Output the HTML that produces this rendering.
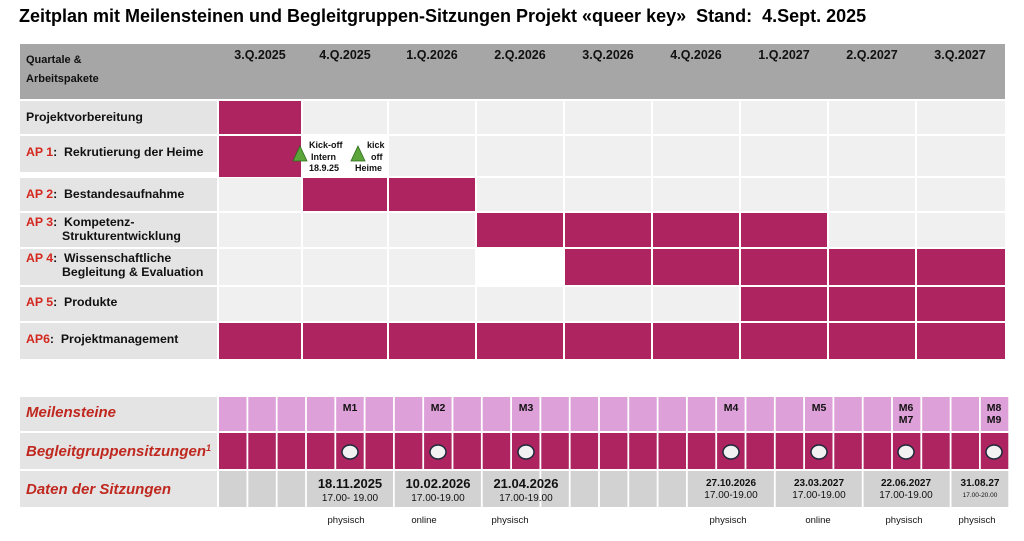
<!DOCTYPE html>
<html><head><meta charset="utf-8"><style>
body{margin:0;background:#fff;}
svg{display:block;font-family:"Liberation Sans",Arial,sans-serif;}
text{white-space:pre;}
</style></head><body>
<svg width="1024" height="541" xmlns="http://www.w3.org/2000/svg" xml:space="preserve">
<text x="19" y="22" font-size="18" font-weight="bold" fill="#000">Zeitplan mit Meilensteinen und Begleitgruppen-Sitzungen Projekt «queer key»  Stand:  4.Sept. 2025</text>
<rect x="20" y="44" width="985" height="55" fill="#a6a6a6"/>
<g font-size="11" font-weight="bold" fill="#111">
<text x="26" y="63">Quartale &amp;</text>
<text x="26" y="82">Arbeitspakete</text>
</g>
<g font-size="12.5" font-weight="bold" fill="#111" text-anchor="middle">
<text x="260" y="59">3.Q.2025</text><text x="345" y="59">4.Q.2025</text><text x="432" y="59">1.Q.2026</text><text x="520" y="59">2.Q.2026</text><text x="608" y="59">3.Q.2026</text><text x="696" y="59">4.Q.2026</text><text x="784" y="59">1.Q.2027</text><text x="872" y="59">2.Q.2027</text><text x="960" y="59">3.Q.2027</text>
</g>
<g fill="#e4e4e4">
<rect x="20" y="101" width="197" height="33"/><rect x="20" y="136" width="197" height="36"/><rect x="20" y="178" width="197" height="33"/><rect x="20" y="213" width="197" height="34"/><rect x="20" y="249" width="197" height="36"/><rect x="20" y="287" width="197" height="34"/><rect x="20" y="323" width="197" height="36"/>
</g>
<g fill="#f0f0f0">
<rect x="219" y="101" width="786" height="33"/><rect x="219" y="136" width="786" height="40"/><rect x="219" y="178" width="786" height="33"/><rect x="219" y="213" width="786" height="34"/><rect x="219" y="249" width="786" height="36"/><rect x="219" y="287" width="786" height="34"/><rect x="219" y="323" width="786" height="36"/>
</g>
<rect x="476" y="249" width="88" height="36" fill="#fff"/>
<g stroke="#fff" stroke-width="2">
<line x1="302" y1="99" x2="302" y2="360"/><line x1="388" y1="99" x2="388" y2="360"/><line x1="476" y1="99" x2="476" y2="360"/><line x1="564" y1="99" x2="564" y2="360"/><line x1="652" y1="99" x2="652" y2="360"/><line x1="740" y1="99" x2="740" y2="360"/><line x1="828" y1="99" x2="828" y2="360"/><line x1="916" y1="99" x2="916" y2="360"/>
</g>
<g fill="#ad2460">
<rect x="219" y="101" width="82" height="33"/>
<rect x="219" y="136" width="82" height="41"/>
<rect x="303" y="178" width="84" height="33"/><rect x="389" y="178" width="86" height="33"/>
<rect x="477" y="213" width="86" height="34"/><rect x="565" y="213" width="86" height="34"/><rect x="653" y="213" width="86" height="34"/><rect x="741" y="213" width="86" height="34"/>
<rect x="565" y="249" width="86" height="36"/><rect x="653" y="249" width="86" height="36"/><rect x="741" y="249" width="86" height="36"/><rect x="829" y="249" width="86" height="36"/><rect x="917" y="249" width="88" height="36"/>
<rect x="741" y="287" width="86" height="34"/><rect x="829" y="287" width="86" height="34"/><rect x="917" y="287" width="88" height="34"/>
<rect x="219" y="323" width="82" height="36"/><rect x="303" y="323" width="84" height="36"/><rect x="389" y="323" width="86" height="36"/><rect x="477" y="323" width="86" height="36"/><rect x="565" y="323" width="86" height="36"/><rect x="653" y="323" width="86" height="36"/><rect x="741" y="323" width="86" height="36"/><rect x="829" y="323" width="86" height="36"/><rect x="917" y="323" width="88" height="36"/>
</g>
<rect x="303" y="136" width="84" height="40" fill="#fff"/>
<polygon points="300,146 307,161 293,161" fill="#5ba53a" stroke="#2e6b1e" stroke-width="0.8"/>
<polygon points="358,146 365,161 351,161" fill="#5ba53a" stroke="#2e6b1e" stroke-width="0.8"/>
<g font-size="9" font-weight="bold" fill="#111">
<text x="309" y="148">Kick-off</text><text x="311" y="160">Intern</text><text x="309" y="171">18.9.25</text>
<text x="367" y="148">kick</text><text x="371" y="160">off</text><text x="355" y="171">Heime</text>
</g>
<g font-size="12.3" font-weight="bold" fill="#111">
<text x="26" y="121">Projektvorbereitung</text>
<text x="26" y="156"><tspan fill="#d3271d">AP 1</tspan>:  Rekrutierung der Heime</text>
<text x="26" y="198"><tspan fill="#d3271d">AP 2</tspan>:  Bestandesaufnahme</text>
<text x="26" y="226"><tspan fill="#d3271d">AP 3</tspan>:  Kompetenz-</text><text x="62" y="240">Strukturentwicklung</text>
<text x="26" y="262"><tspan fill="#d3271d">AP 4</tspan>:  Wissenschaftliche</text><text x="62" y="276">Begleitung &amp; Evaluation</text>
<text x="26" y="306"><tspan fill="#d3271d">AP 5</tspan>:  Produkte</text>
<text x="26" y="343"><tspan fill="#d3271d">AP6</tspan>:  Projektmanagement</text>
</g>
<g fill="#e4e4e4"><rect x="20" y="397" width="197" height="34"/><rect x="20" y="433" width="197" height="36"/><rect x="20" y="471" width="197" height="36"/></g>
<g font-size="15" font-weight="bold" font-style="italic" fill="#c0281f">
<text x="26" y="417">Meilensteine</text>
<text x="26" y="456">Begleitgruppensitzungen<tspan font-size="9" dy="-5">1</tspan></text>
<text x="26" y="494">Daten der Sitzungen</text>
</g>
<g fill="#dda0d8">
<rect x="219" y="397" width="27.5" height="34"/><rect x="248.3" y="397" width="27.5" height="34"/><rect x="277.6" y="397" width="27.5" height="34"/><rect x="306.9" y="397" width="27.5" height="34"/><rect x="336.2" y="397" width="27.5" height="34"/><rect x="365.5" y="397" width="27.5" height="34"/><rect x="394.8" y="397" width="27.5" height="34"/><rect x="424.1" y="397" width="27.5" height="34"/><rect x="453.4" y="397" width="27.5" height="34"/><rect x="482.7" y="397" width="27.5" height="34"/><rect x="512" y="397" width="27.5" height="34"/><rect x="541.3" y="397" width="27.5" height="34"/><rect x="570.6" y="397" width="27.5" height="34"/><rect x="599.9" y="397" width="27.5" height="34"/><rect x="629.2" y="397" width="27.5" height="34"/><rect x="658.5" y="397" width="27.5" height="34"/><rect x="687.8" y="397" width="27.5" height="34"/><rect x="717.1" y="397" width="27.5" height="34"/><rect x="746.4" y="397" width="27.5" height="34"/><rect x="775.7" y="397" width="27.5" height="34"/><rect x="805" y="397" width="27.5" height="34"/><rect x="834.3" y="397" width="27.5" height="34"/><rect x="863.6" y="397" width="27.5" height="34"/><rect x="892.9" y="397" width="27.5" height="34"/><rect x="922.2" y="397" width="27.5" height="34"/><rect x="951.5" y="397" width="27.5" height="34"/><rect x="980.8" y="397" width="27.5" height="34"/>
</g>
<g fill="#ad2460">
<rect x="219" y="433" width="27.5" height="36"/><rect x="248.3" y="433" width="27.5" height="36"/><rect x="277.6" y="433" width="27.5" height="36"/><rect x="306.9" y="433" width="27.5" height="36"/><rect x="336.2" y="433" width="27.5" height="36"/><rect x="365.5" y="433" width="27.5" height="36"/><rect x="394.8" y="433" width="27.5" height="36"/><rect x="424.1" y="433" width="27.5" height="36"/><rect x="453.4" y="433" width="27.5" height="36"/><rect x="482.7" y="433" width="27.5" height="36"/><rect x="512" y="433" width="27.5" height="36"/><rect x="541.3" y="433" width="27.5" height="36"/><rect x="570.6" y="433" width="27.5" height="36"/><rect x="599.9" y="433" width="27.5" height="36"/><rect x="629.2" y="433" width="27.5" height="36"/><rect x="658.5" y="433" width="27.5" height="36"/><rect x="687.8" y="433" width="27.5" height="36"/><rect x="717.1" y="433" width="27.5" height="36"/><rect x="746.4" y="433" width="27.5" height="36"/><rect x="775.7" y="433" width="27.5" height="36"/><rect x="805" y="433" width="27.5" height="36"/><rect x="834.3" y="433" width="27.5" height="36"/><rect x="863.6" y="433" width="27.5" height="36"/><rect x="892.9" y="433" width="27.5" height="36"/><rect x="922.2" y="433" width="27.5" height="36"/><rect x="951.5" y="433" width="27.5" height="36"/><rect x="980.8" y="433" width="27.5" height="36"/>
</g>
<g fill="#d2d2d2">
<rect x="219" y="471" width="27.5" height="36"/><rect x="248.3" y="471" width="27.5" height="36"/><rect x="277.6" y="471" width="27.5" height="36"/>
<rect x="306.9" y="471" width="86.1" height="36"/><rect x="394.8" y="471" width="86.1" height="36"/><rect x="482.7" y="471" width="56.8" height="36"/>
<rect x="541.3" y="471" width="27.5" height="36"/><rect x="570.6" y="471" width="27.5" height="36"/><rect x="599.9" y="471" width="27.5" height="36"/><rect x="629.2" y="471" width="27.5" height="36"/><rect x="658.5" y="471" width="27.5" height="36"/>
<rect x="687.8" y="471" width="86.1" height="36"/><rect x="775.7" y="471" width="86.1" height="36"/><rect x="863.6" y="471" width="86.1" height="36"/><rect x="951.5" y="471" width="56.8" height="36"/>
</g>
<g font-size="10.5" font-weight="bold" fill="#111" text-anchor="middle">
<text x="350" y="411">M1</text><text x="438" y="411">M2</text><text x="526" y="411">M3</text><text x="731" y="411">M4</text><text x="819" y="411">M5</text><text x="906" y="411">M6</text><text x="906" y="423">M7</text><text x="994" y="411">M8</text><text x="994" y="423">M9</text>
</g>
<g fill="#f2f2f2" stroke="#1e2a3a" stroke-width="1.5">
<ellipse cx="350" cy="452" rx="8" ry="7"/><ellipse cx="438" cy="452" rx="8" ry="7"/><ellipse cx="526" cy="452" rx="8" ry="7"/><ellipse cx="731" cy="452" rx="8" ry="7"/><ellipse cx="819" cy="452" rx="8" ry="7"/><ellipse cx="906" cy="452" rx="8" ry="7"/><ellipse cx="994" cy="452" rx="8" ry="7"/>
</g>
<g fill="#111" text-anchor="middle">
<text x="350" y="488" font-size="13" font-weight="bold">18.11.2025</text><text x="350" y="501" font-size="10">17.00- 19.00</text>
<text x="438" y="488" font-size="13" font-weight="bold">10.02.2026</text><text x="438" y="501" font-size="10">17.00-19.00</text>
<text x="526" y="488" font-size="13" font-weight="bold">21.04.2026</text><text x="526" y="501" font-size="10">17.00-19.00</text>
<text x="731" y="486" font-size="10" font-weight="bold">27.10.2026</text><text x="731" y="498" font-size="10">17.00-19.00</text>
<text x="819" y="486" font-size="10" font-weight="bold">23.03.2027</text><text x="819" y="498" font-size="10">17.00-19.00</text>
<text x="906" y="486" font-size="10" font-weight="bold">22.06.2027</text><text x="906" y="498" font-size="10">17.00-19.00</text>
<text x="980" y="486" font-size="10" font-weight="bold">31.08.27</text><text x="980" y="497" font-size="6.5">17.00-20.00</text>
</g>
<g font-size="9.5" fill="#111" text-anchor="middle">
<text x="346" y="523">physisch</text><text x="424" y="523">online</text><text x="510" y="523">physisch</text><text x="728" y="523">physisch</text><text x="818" y="523">online</text><text x="904" y="523">physisch</text><text x="977" y="523">physisch</text>
</g>
</svg>
</body></html>
